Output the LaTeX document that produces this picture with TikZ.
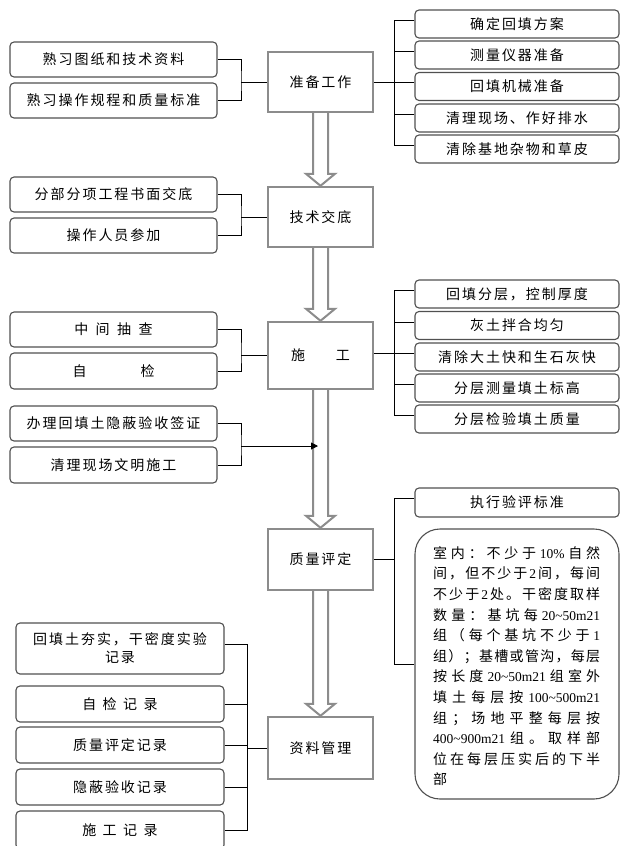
\documentclass[tikz,border=0pt]{standalone}
\usepackage{fontspec}
\setmainfont{Noto Sans CJK SC}[LetterSpace=14]
\newfontfamily\latf{Liberation Serif}
\usetikzlibrary{arrows.meta,calc}
\definecolor{mgray}{RGB}{140,140,140}
\definecolor{bgray}{RGB}{80,80,80}
\newcommand\LT[1]{{\latf\fontsize{13.5}{14}\selectfont #1}}
\newcommand\J[1]{\makebox[167pt][s]{#1}}
\newcommand\gp{\hfil}
\newcommand\fatarr[2]{%
 \draw[mgray,line width=2pt] ($(#1.south)+(-7.5,0)$) -- ($(#2.north)+(-7.5,-12)$) -- ($(#2.north)+(-14.5,-12)$) -- (#2.north) -- ($(#2.north)+(14.5,-12)$) -- ($(#2.north)+(7.5,-12)$) -- ($(#1.south)+(7.5,0)$);}
\begin{document}
\begin{tikzpicture}[x=1pt,y=-1pt,font=\fontsize{14}{16}\selectfont,
 rbox/.style={draw=bgray,line width=1.1pt,rounded corners=4pt,inner sep=0pt,align=center},
 lbox/.style={rbox,minimum width=207pt},
 rtbox/.style={rbox,minimum width=204pt,minimum height=28pt},
 bbox/.style={rbox,minimum width=208pt,minimum height=36pt},
 mbox/.style={draw=mgray,line width=2.4pt,inner sep=0pt,minimum width=105pt},
 conn/.style={draw=black,line width=0.9pt},
 bl/.style={inner sep=0pt,anchor=base west}]
\fill[white] (0,0) rectangle (639,846);
\useasboundingbox (0,0) rectangle (639,846);

% main column
\node[mbox,minimum height=60pt] (P1) at (320.5,82) {准备工作};
\node[mbox,minimum height=60pt] (T) at (320.5,217) {技术交底};
\node[mbox,minimum height=67pt] (S) at (320.5,355.5) {施\hspace{31pt}工};
\node[mbox,minimum height=61pt] (Q) at (320.5,559.5) {质量评定};
\node[mbox,minimum height=62pt] (D) at (320.5,748) {资料管理};

\fatarr{P1}{T}
\fatarr{T}{S}
\fatarr{S}{Q}
\fatarr{Q}{D}

% left groups
\node[lbox,minimum height=35pt] (L1a) at (113.5,59.5) {熟习图纸和技术资料};
\node[lbox,minimum height=35pt] (L1b) at (113.5,100.5) {熟习操作规程和质量标准};
\node[lbox,minimum height=35pt] (L2a) at (113.5,194.5) {分部分项工程书面交底};
\node[lbox,minimum height=35pt] (L2b) at (113.5,235.5) {操作人员参加};
\node[lbox,minimum height=35pt] (L3a) at (113.5,329.5) {中\hspace{7.5pt}间\hspace{7.5pt}抽\hspace{7.5pt}查};
\node[lbox,minimum height=36pt] (L3b) at (113.5,371) {自\hspace{54pt}检};
\node[lbox,minimum height=35pt] (L4a) at (113.5,423.5) {办理回填土隐蔽验收签证};
\node[lbox,minimum height=36pt] (L4b) at (113.5,465) {清理现场文明施工};

% right groups
\node[rtbox] (R1) at (517,24) {确定回填方案};
\node[rtbox] (R2) at (517,55) {测量仪器准备};
\node[rtbox] (R3) at (517,86.5) {回填机械准备};
\node[rtbox] (R4) at (517,118) {清理现场、作好排水};
\node[rtbox] (R5) at (517,149) {清除基地杂物和草皮};
\node[rtbox] (R6) at (517,294) {回填分层，控制厚度};
\node[rtbox] (R7) at (517,325.5) {灰土拌合均匀};
\node[rtbox] (R8) at (517,357) {清除大土快和生石灰快};
\node[rtbox] (R9) at (517,388) {分层测量填土标高};
\node[rtbox] (R10) at (517,419) {分层检验填土质量};
\node[rtbox,minimum height=29pt] (R11) at (517,502.5) {执行验评标准};
\node[draw=bgray,line width=1.1pt,rounded corners=25pt,minimum width=204pt,minimum height=270pt,inner sep=0pt] (B) at (517,664) {};

% text of the big box
\node[bl] (b1) at (433,558.3) {\J{室\gp 内\gp ：\gp 不\gp 少\gp 于\gp\LT{10\%}\gp 自\gp 然}};
\node[bl] (b2) at (433,578.9) {\J{间\gp ，\gp 但\gp 不\gp 少\gp 于\gp\LT{2}\gp 间\gp ，\gp 每\gp 间}};
\node[bl] (b3) at (433,599.5) {\J{不\gp 少\gp 于\gp\LT{2}\gp 处\gp 。\gp 干\gp 密\gp 度\gp 取\gp 样}};
\node[bl] (b4) at (433,620.1) {\J{数\gp 量\gp ：\gp 基\gp 坑\gp 每\gp\LT{20\textasciitilde 50m21}}};
\node[bl] (b5) at (433,640.7) {\J{组\gp （\gp 每\gp 个\gp 基\gp 坑\gp 不\gp 少\gp 于\gp\LT{1}}};
\node[bl] (b6) at (433,661.3) {\J{组\gp ）\gp ；\gp 基\gp 槽\gp 或\gp 管\gp 沟\gp ，\gp 每\gp 层}};
\node[bl] (b7) at (433,681.9) {\J{按\gp 长\gp 度\gp\LT{20\textasciitilde 50m21}\gp 组\gp 室\gp 外}};
\node[bl] (b8) at (433,702.5) {\J{填\gp 土\gp 每\gp 层\gp 按\gp\LT{100\textasciitilde 500m21}}};
\node[bl] (b9) at (433,723.1) {\J{组\gp ；\gp 场\gp 地\gp 平\gp 整\gp 每\gp 层\gp 按}};
\node[bl] (b10) at (433,743.7) {\J{\LT{400\textasciitilde 900m21}\gp 组\gp 。\gp 取\gp 样\gp 部}};
\node[bl] (b11) at (433,764.3) {\J{位\gp 在\gp 每\gp 层\gp 压\gp 实\gp 后\gp 的\gp 下\gp 半}};
\node[bl] (b12) at (433,784.9) {部};

% bottom-left records
\node[bbox,minimum height=51pt,font=\fontsize{14}{18}\selectfont] (M1) at (120,648.5) {回填土夯实，干密度实验\\记录};
\node[bbox] (M2) at (120,704) {自\hspace{6.5pt}检\hspace{6.5pt}记\hspace{6.5pt}录};
\node[bbox] (M3) at (120,745) {质量评定记录};
\node[bbox] (M4) at (120,787) {隐蔽验收记录};
\node[bbox,minimum height=38pt] (M5) at (120,830) {施\hspace{6.5pt}工\hspace{6.5pt}记\hspace{6.5pt}录};

% connectors: left side
\coordinate (j1) at (241,82);
\draw[conn] (L1a.east) -| (j1) |- (L1b.east);
\draw[conn] (j1) -- (P1.west);
\coordinate (j2) at (241,217);
\draw[conn] (L2a.east) -| (j2) |- (L2b.east);
\draw[conn] (j2) -- (T.west);
\coordinate (j3) at (241,355.5);
\draw[conn] (L3a.east) -| (j3) |- (L3b.east);
\draw[conn] (j3) -- (S.west);
\coordinate (j4) at (241,446);
\coordinate (t4) at (318,446);
\draw[conn] (L4a.east) -| (j4) |- (L4b.east);
\draw[conn,-{Triangle[length=7pt,width=7pt]}] (j4) -- (t4);

% connectors: right side
\coordinate (rv) at (394,0);
\foreach \i in {1,...,5}{\coordinate (a\i) at ([yshift=4pt]R\i.west); \draw[conn] (a\i) -- (a\i -| rv);}
\draw[conn] (a1 -| rv) -- (a5 -| rv);
\draw[conn] (P1.east) -- (P1.east -| rv);
\foreach \i in {6,...,10}{\coordinate (a\i) at ([yshift=3.5pt]R\i.west); \draw[conn] (a\i) -- (a\i -| rv);}
\draw[conn] (a6 -| rv) -- (a10 -| rv);
\draw[conn] (a8 -| S.east) -- (a8 -| rv);
\coordinate (a11) at ([yshift=4.5pt]R11.west);
\draw[conn] (a11) -- (a11 -| rv) -- (B.west -| rv) -- (B.west);
\draw[conn] (Q.east) -- (Q.east -| rv);

% connectors: records
\coordinate (lv) at (247,0);
\coordinate (m1) at ([yshift=4.5pt]M1.east);
\draw[conn] (m1) -- (m1 -| lv) -- (M5.east -| lv) -- (M5.east);
\foreach \i in {2,3,4}{\draw[conn] (M\i.east) -- (M\i.east -| lv);}
\draw[conn] (D.west) -- (D.west -| lv);
\end{tikzpicture}
\end{document}
